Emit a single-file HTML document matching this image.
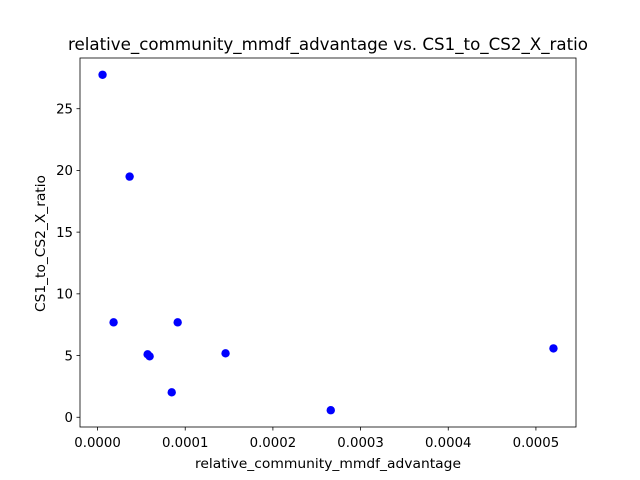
<!DOCTYPE html>
<html><head><meta charset="utf-8"><style>body{margin:0;background:#fff}svg{display:block}</style></head>
<body>
<svg id="chart" width="640" height="480" xmlns="http://www.w3.org/2000/svg" font-family="'DejaVu Sans', 'Liberation Sans', sans-serif">
<rect width="640" height="480" fill="#fff"/>
<text x="328" y="50" font-size="16.7" text-anchor="middle" textLength="520" lengthAdjust="spacingAndGlyphs">relative_community_mmdf_advantage vs. CS1_to_CS2_X_ratio</text>
<text x="328" y="468" font-size="13.3" text-anchor="middle" textLength="266" lengthAdjust="spacingAndGlyphs">relative_community_mmdf_advantage</text>
<text transform="translate(45,243.5) rotate(-90)" font-size="13.3" text-anchor="middle" textLength="137" lengthAdjust="spacingAndGlyphs">CS1_to_CS2_X_ratio</text>
<g id="ticks"></g>
<g id="points"></g>
<rect x="80" y="58" width="496" height="369" fill="none" stroke="#000" stroke-width="0.8"/>
</svg>
<script>
const xValues = [0.0000057, 0.0000366, 0.0000183, 0.0000571, 0.0000594, 0.0000846, 0.0000914, 0.000146, 0.000266, 0.00052];
const yValues = [27.75, 19.5, 7.69, 5.1, 4.94, 2.02, 7.69, 5.18, 0.57, 5.58];
const xTicks = [0, 0.0001, 0.0002, 0.0003, 0.0004, 0.0005];
const xTickLabels = ["0.0000","0.0001","0.0002","0.0003","0.0004","0.0005"];
const yTicks = [0, 5, 10, 15, 20, 25];
const yTickLabels = ["0","5","10","15","20","25"];

const L=80,R=576,T=58,B=427;
const xmin0=Math.min(...xValues),xmax0=Math.max(...xValues),ymin0=Math.min(...yValues),ymax0=Math.max(...yValues);
const xm=(xmax0-xmin0)*0.05, ym=(ymax0-ymin0)*0.05;
const xmin=xmin0-xm,xmax=xmax0+xm,ymin=ymin0-ym,ymax=ymax0+ym;
const sx=v=>L+(v-xmin)/(xmax-xmin)*(R-L);
const sy=v=>B-(v-ymin)/(ymax-ymin)*(B-T);
const NS="http://www.w3.org/2000/svg";
const tg=document.getElementById('ticks'), pg=document.getElementById('points');
function mk(tag,attrs,parent){const e=document.createElementNS(NS,tag);for(const k in attrs)e.setAttribute(k,attrs[k]);parent.appendChild(e);return e;}
xTicks.forEach((v,i)=>{
  const x=sx(v);
  const l=mk('line',{x1:x,x2:x,y1:B,y2:B+3.5,stroke:'#000','stroke-width':0.8},tg);
  
  
  const t=mk('text',{x:x,y:B+20,'font-size':13.3,'text-anchor':'middle'},tg);
  t.textContent=xTickLabels[i];
  
  
});
yTicks.forEach((v,i)=>{
  const y=sy(v);
  const l=mk('line',{x1:L-3.5,x2:L,y1:y,y2:y,stroke:'#000','stroke-width':0.8},tg);
  
  
  const t=mk('text',{x:L-7,y:y+4.8,'font-size':13.3,'text-anchor':'end'},tg);
  t.textContent=yTickLabels[i];
  
  
});
xValues.forEach((v,i)=>{
  const c=mk('circle',{cx:sx(v),cy:sy(yValues[i]),r:4.2,fill:'#0000ff'},pg);
  
  
});
</script>
</body></html>
